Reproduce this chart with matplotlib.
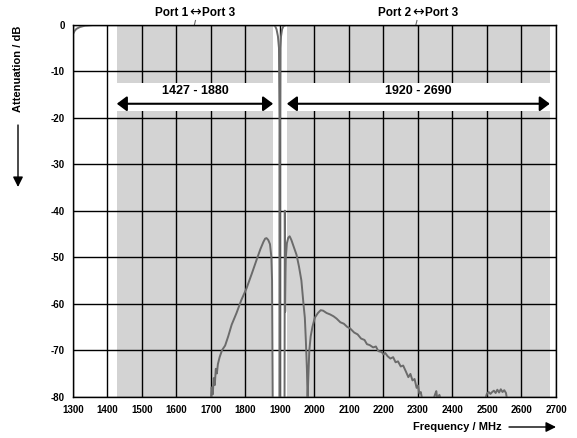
import matplotlib
matplotlib.use("Agg")
import matplotlib.pyplot as plt
from matplotlib.patches import FancyArrowPatch

plt.rcParams['font.family'] = ['Liberation Sans', 'DejaVu Sans']
plt.rcParams['font.weight'] = 'bold'
plt.rcParams['axes.unicode_minus'] = False

# ── Data ───────────────────────────────────────────────────────────────────────

# Port 1 <-> Port 3 (passes the low band, rejects the high band)
p13_freq = [1300, 1305, 1310, 1320, 1335, 1360, 1400, 1600, 1800, 1880, 1886,
            1890, 1894, 1897, 1898.5, 1899.5, 1913, 1914, 1915, 1917, 1920,
            1924, 1928, 1933, 1940, 1948, 1955, 1962, 1968, 1972, 1975, 1978,
            1980, 1982, 1985, 1989, 1994, 2001, 2010, 2018, 2025, 2035, 2045,
            2055, 2064, 2075, 2085, 2095, 2103, 2115, 2125, 2135, 2145, 2152,
            2160, 2170, 2178, 2185, 2195, 2200, 2205, 2212, 2220, 2228, 2235,
            2242, 2250, 2257, 2265, 2272, 2278, 2284, 2290, 2296, 2300, 2304,
            2308, 2312, 2345, 2350, 2353, 2356, 2362, 2366, 2495, 2500, 2505,
            2510, 2515, 2520, 2525, 2530, 2535, 2540, 2545, 2550, 2555, 2558,
            2700]
p13_db = [-2.0, -1.3, -0.9, -0.5, -0.2, -0.05, 0, 0, 0, 0, -0.3,
          -1.0, -2.5, -5.0, -20, -90, -90, -40, -61.7, -50, -47,
          -45.8, -45.5, -46.3, -47.8, -49.5, -52, -55, -60, -63, -68, -74,
          -80.5, -76, -70, -67, -65, -63, -62, -61.4, -61.5, -62, -62.3,
          -62.7, -63.2, -64, -64.3, -65, -65.3, -66.2, -66.6, -67.5, -67.8, -68.7,
          -68.9, -69.4, -69.2, -70.2, -70.4, -70.9, -70.6, -71.3, -71.8, -71.5, -72.6,
          -72.4, -73.5, -73.3, -74.6, -75.8, -75.1, -76.5, -76.2, -78.1, -77.6, -79.3,
          -79.0, -80.5, -80.5, -79.4, -78.8, -80.5, -79.6, -80.5, -80.5, -79.3, -79.0,
          -79.4, -79.0, -78.7, -79.2, -78.5, -79.1, -78.4, -79.0, -78.6, -79.2, -80.5,
          -80.5]

# Port 2 <-> Port 3 (rejects the low band, passes the high band)
p23_freq = [1695, 1700, 1702, 1705, 1708, 1711, 1714, 1717, 1720, 1725, 1732,
            1741, 1750, 1760, 1774, 1788, 1803, 1818, 1832, 1843, 1852, 1857,
            1861, 1866, 1871, 1875, 1877, 1878.5, 1879.5, 1898.5, 1899.5, 1901,
            1903, 1906, 1910, 1920, 2700]
p23_db = [-80.5, -80.5, -78, -79.5, -76, -77.5, -74, -75, -73, -71.5, -70,
          -69, -67, -64.5, -62, -59.2, -56.7, -53.6, -50.6, -48.3, -46.7, -46,
          -45.9, -46.3, -47.2, -50, -55, -75, -90, -90, -30, -5,
          -2.5, -1.0, -0.3, 0, 0]

bands = [(1427, 1880), (1920, 2682)]
band_labels = ["1427 - 1880", "1920 - 2690"]
x_ticks = list(range(1300, 2701, 100))
y_ticks = list(range(-80, 1, 10))

LINE_GRAY = "#6b6b6b"
SHADE = "#d3d3d3"

# ── Figure ─────────────────────────────────────────────────────────────────────

fig = plt.figure(figsize=(5.77, 4.38), dpi=100)
ax = fig.add_axes([0.1265, 0.0943, 0.8371, 0.8493])

for lo, hi in bands:
    ax.axvspan(lo, hi, color=SHADE, lw=0, zorder=0.1)
    ax.fill_between([lo, hi], -18.5, -12.5, color="white", lw=0, zorder=0.8)

ax.set_axisbelow(True)
ax.grid(True, color="black", lw=1.0)

ax.plot(p13_freq, p13_db, color=LINE_GRAY, lw=1.4, zorder=2)
ax.plot(p23_freq, p23_db, color=LINE_GRAY, lw=1.4, zorder=2)

ax.set_xlim(1300, 2700)
ax.set_ylim(-80, 0)
ax.set_xticks(x_ticks)
ax.set_yticks(y_ticks)
ax.tick_params(length=0, labelsize=7, pad=6)
for lbl in ax.get_xticklabels() + ax.get_yticklabels():
    lbl.set_fontweight("bold")
for sp in ax.spines.values():
    sp.set_color("black")
    sp.set_linewidth(1.0)

# band arrows + labels
for (lo, hi), txt in zip(bands, band_labels):
    ax.add_patch(FancyArrowPatch((lo, -17), (hi, -17),
                                 arrowstyle="<|-|>,head_length=0.6,head_width=0.45",
                                 mutation_scale=10, color="black", lw=1.5,
                                 shrinkA=0, shrinkB=0, zorder=3))
    ax.text((lo + hi) / 2, -14.3, txt, ha="center", va="center",
            fontsize=9, fontweight="bold", zorder=3)

# port labels (left port, double arrow glyph, right port) with leader lines
for xc, xl, left, right in [(1655, 1652, "Port 1", "Port 3"),
                            (2300, 2294, "Port 2", "Port 3")]:
    ax.annotate(left, (xc, 2.5), xytext=(-5, 0), textcoords="offset points",
                ha="right", va="center", fontsize=8.5, fontweight="bold",
                annotation_clip=False)
    ax.annotate("\u2194", (xc, 2.5), xytext=(0, 0.5), textcoords="offset points",
                ha="center", va="center", fontsize=10, fontweight="normal",
                family="DejaVu Sans", annotation_clip=False)
    ax.annotate(right, (xc, 2.5), xytext=(5, 0), textcoords="offset points",
                ha="left", va="center", fontsize=8.5, fontweight="bold",
                annotation_clip=False)
    ax.plot([xl + 3, xl], [0.9, 0], color=LINE_GRAY, lw=0.8, clip_on=False)

# axis labels with arrows (figure pixel coords)
W, H = 577, 438
fig.text(18 / W, 1 - 69 / H, "Attenuation / dB", rotation=90,
         ha="center", va="center", fontsize=8, fontweight="bold")
fig.add_artist(FancyArrowPatch((18 / W, 1 - 125 / H), (18 / W, 1 - 187 / H),
                               transform=fig.transFigure,
                               arrowstyle="-|>,head_length=0.6,head_width=0.3",
                               mutation_scale=10, color="black", lw=1.0,
                               shrinkA=0, shrinkB=0))
fig.text(457 / W, 1 - 427 / H, "Frequency / MHz", ha="center", va="center",
         fontsize=8, fontweight="bold")
fig.add_artist(FancyArrowPatch((509 / W, 1 - 427 / H), (556 / W, 1 - 427 / H),
                               transform=fig.transFigure,
                               arrowstyle="-|>,head_length=0.6,head_width=0.3",
                               mutation_scale=10, color="black", lw=1.0,
                               shrinkA=0, shrinkB=0))

fig.savefig("out.png", dpi=100)
